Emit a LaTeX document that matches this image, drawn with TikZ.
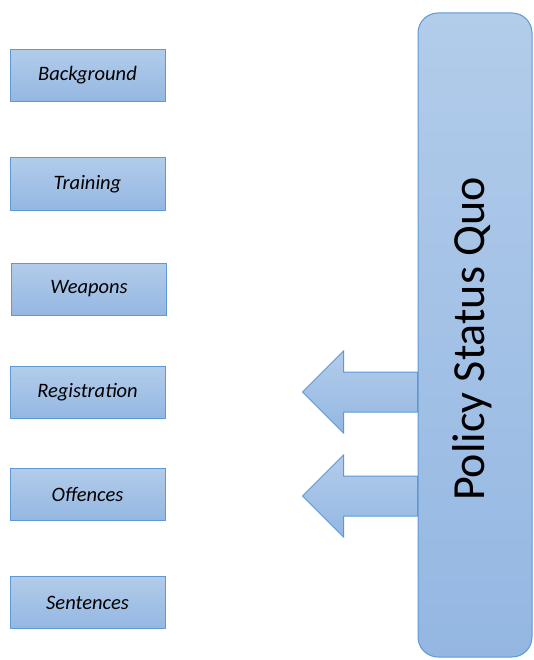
\documentclass[tikz,border=0pt]{standalone}
\usepackage{fontspec}
\setmainfont{Carlito}
\usetikzlibrary{positioning,calc}
\definecolor{PaleBlue}{RGB}{178,204,234}
\definecolor{MidBlue}{RGB}{148,183,226}
\definecolor{EdgeBlue}{RGB}{94,153,214}
\tikzset{
  topic/.style={draw=EdgeBlue,top color=PaleBlue,bottom color=MidBlue,
    line width=1pt,minimum width=155,minimum height=52,inner sep=0pt,
    font=\fontsize{20.5}{24}\selectfont\itshape},
  statusbox/.style={draw=EdgeBlue,top color=PaleBlue,bottom color=MidBlue,
    line width=1pt,rounded corners=20pt,minimum width=114,minimum height=644,
    inner sep=0pt},
  statustext/.style={rotate=90,font=\fontsize{46}{52}\selectfont,inner sep=0pt},
  blockarrow/.style={draw=EdgeBlue,top color=PaleBlue,bottom color=MidBlue,
    line width=1pt,line join=miter}
}
\begin{document}
\begin{tikzpicture}[x=1pt,y=-1pt]
  \useasboundingbox (0,0) rectangle (533,660);
  % topics down the left side
  \foreach \x/\y/\nm/\txt in {87.5/75.5/background/Background,
      87.5/184/training/Training,89/289/weapons/Weapons,
      87.5/392.5/registration/Registration,87.5/494.5/offences/Offences,
      87.5/602.5/sentences/Sentences}{
    \node[topic] (\nm) at (\x,\y) {\txt};}
  % the big rounded box
  \node[statusbox] (status) at (475,335) {};
  \node[statustext] (statuslabel) at (472,339) {Policy Status Quo};
  % two block arrows out of the box
  \coordinate (regtail) at (status.west |- 0,392);
  \coordinate (offtail) at (status.west |- 0,496);
  \foreach \t in {regtail,offtail}{
    \path[blockarrow] (\t) ++(0,-20) -- ++(-74,0) -- ++(0,-21) -- ++(-41,41)
      -- ++(41,41) -- ++(0,-21) -- ++(74,0) -- cycle;}
\end{tikzpicture}
\end{document}
